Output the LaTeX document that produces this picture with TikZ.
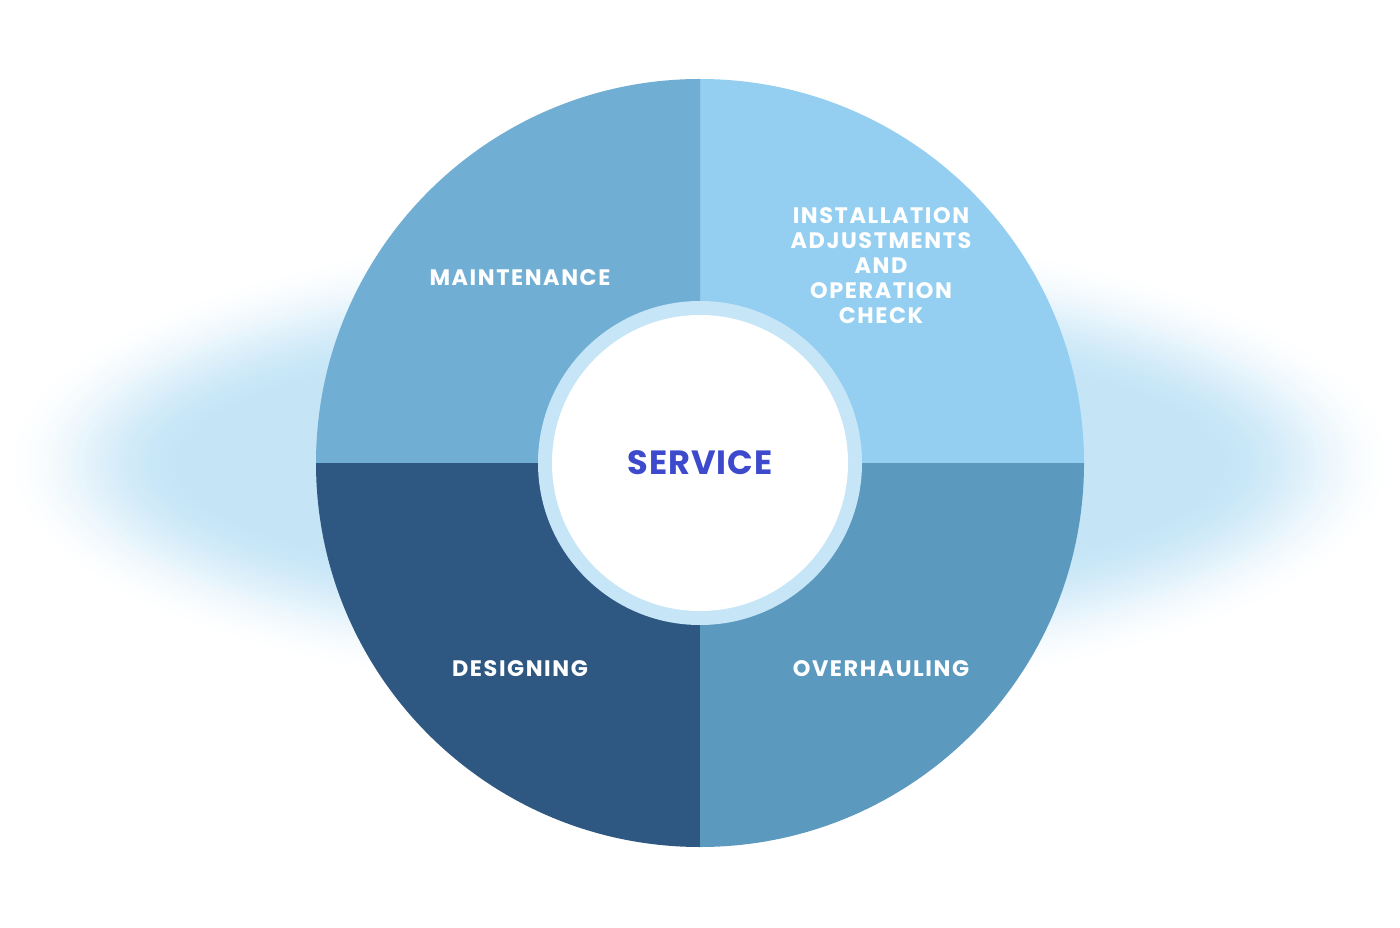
\documentclass[tikz,border=0pt]{standalone}
\usepackage{fontspec}
\newfontfamily\pop{Poppins}[LetterSpace=3]
\newfontfamily\popl{Poppins}[LetterSpace=7]
\definecolor{qtl}{HTML}{71AED3}
\definecolor{qtr}{HTML}{94CFF1}
\definecolor{qbr}{HTML}{5B99BF}
\definecolor{qbl}{HTML}{2E5882}
\definecolor{ringc}{HTML}{C6E6F8}
\definecolor{svc}{HTML}{3C4ACB}
\definecolor{glowc}{HTML}{C5E5F7}
\tikzset{
  lbl/.style={text=white, font=\popl\bfseries\fontsize{11.2}{12.5}\selectfont, align=center, inner sep=0pt},
}
\begin{document}
\begin{tikzpicture}[x=0.5pt,y=0.5pt]
\useasboundingbox (0,0) rectangle (1400,927);
\fill[white] (0,0) rectangle (1400,927);
\coordinate (C) at (700,464);
% glow: stepped ellipses fading to white
\foreach \k in {0,...,48}{
  \pgfmathsetmacro{\f}{\k/48}
  \pgfmathsetmacro{\rx}{350*(1-0.26*\f)}
  \pgfmathsetmacro{\ry}{122*(1-0.5*\f)}
  \pgfmathsetmacro{\mix}{100*(3*\f*\f-2*\f*\f*\f)}
  \fill[glowc!\mix!white] (C) ellipse [x radius=\rx pt, y radius=\ry pt];
}
% quadrants
\fill[qtr] (C) -- ++(192pt,0) arc[start angle=0,end angle=90,radius=192pt] -- cycle;
\fill[qtl] (C) -- ++(0,192pt) arc[start angle=90,end angle=180,radius=192pt] -- cycle;
\fill[qbl] (C) -- ++(-192pt,0) arc[start angle=180,end angle=270,radius=192pt] -- cycle;
\fill[qbr] (C) -- ++(0,-192pt) arc[start angle=270,end angle=360,radius=192pt] -- cycle;
% ring and centre
\fill[ringc] (C) circle[radius=81pt];
\fill[white] (C) circle[radius=74pt];
\node[text=svc, font=\pop\bfseries\fontsize{16.8}{20}\selectfont, inner sep=0pt] (svc) at (700,464) {SERVICE};
\node[lbl] (maint) at (520,649) {MAINTENANCE};
\node[lbl] (inst) at (881,661) {INSTALLATION\\ADJUSTMENTS\\AND\\OPERATION\\CHECK};
\node[lbl] (des) at (520,258) {DESIGNING};
\node[lbl] (over) at (881,258) {OVERHAULING};
\end{tikzpicture}
\end{document}
